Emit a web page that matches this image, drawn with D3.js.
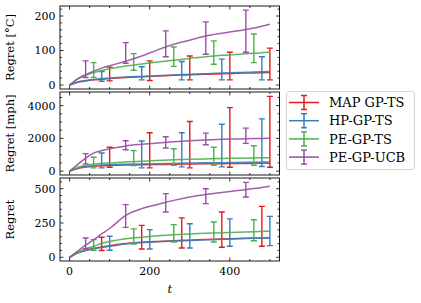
<!DOCTYPE html>
<html>
  <head>
    <meta charset="utf-8">
    <title>Regret</title>
    <script src="https://d3js.org/d3.v7.min.js"></script>
    <style>
      body { margin: 0; background: #fff; }
      text { font-family: "DejaVu Serif", serif; fill: #000; }
    </style>
  </head>
  <body>
    <svg width="421" height="303"></svg>

    <script>
      // ---- data ----
      const names = ["MAP GP-TS", "HP-GP-TS", "PE-GP-TS", "PE-GP-UCB"];
      const colors = ["#e41a1c", "#377eb8", "#4daf4a", "#984ea3"];
      const T = [0, 20, 40, 60, 80, 100, 140, 180, 220, 260, 300, 340, 380, 420, 460, 500];

      // top panel: Regret [°C]
      const tempMean = [
        [0, 8, 12, 15, 17, 19, 22, 24, 26, 28, 30, 31, 33, 34, 35, 36],
        [0, 9, 13, 16, 19, 20, 23, 25, 27, 29, 31, 33, 35, 36, 38, 39],
        [0, 18, 28, 36, 42, 47, 55, 61, 67, 72, 77, 82, 86, 89, 92, 96],
        [0, 18, 30, 40, 49, 56, 69, 84, 102, 118, 130, 142, 150, 157, 165, 176]
      ];
      const tempBarT = [[100, 200, 300, 400, 500], [80, 180, 280, 380, 480], [60, 160, 260, 360, 460], [40, 140, 240, 340, 440]];
      const tempLo = [[12, 13, 15, 15, 15], [11, 15, 15, 15, 15], [22, 43, 54, 60, 65], [22, 63, 82, 89, 95]];
      const tempHi = [[52, 70, 84, 95, 107], [39, 53, 68, 75, 82], [65, 91, 110, 128, 148], [70, 123, 157, 183, 217]];

      // middle panel: Regret [mph]
      const windMean = [
        [0, 160, 250, 300, 330, 350, 375, 390, 405, 420, 435, 445, 455, 465, 475, 480],
        [0, 180, 280, 330, 370, 400, 425, 440, 455, 470, 490, 505, 520, 535, 550, 560],
        [0, 220, 360, 430, 470, 500, 560, 610, 650, 690, 720, 745, 770, 790, 810, 820],
        [0, 400, 800, 1100, 1260, 1360, 1540, 1640, 1720, 1790, 1850, 1900, 1940, 1965, 1985, 2010]
      ];
      const windBarT = tempBarT;
      const windLo = [[240, 200, 200, 240, 240], [200, 200, 260, 260, 280], [200, 340, 363, 363, 363], [442, 1310, 1410, 1612, 1697]];
      const windHi = [[1455, 2340, 3030, 3878, 4563], [1109, 1836, 2340, 2866, 3188], [848, 1250, 1370, 1455, 1550], [1067, 1855, 2100, 2320, 2625]];

      // bottom panel: Regret
      const plainMean = [
        [0, 32, 52, 66, 75, 84, 100, 110, 116, 121, 125, 130, 134, 137, 140, 143],
        [0, 30, 50, 63, 72, 80, 97, 107, 113, 118, 122, 127, 132, 135, 138, 141],
        [0, 35, 62, 80, 100, 115, 135, 147, 157, 165, 170, 175, 179, 183, 187, 190],
        [0, 45, 88, 128, 170, 210, 305, 355, 385, 415, 440, 458, 472, 487, 501, 518]
      ];
      const plainBarT = [[80, 180, 280, 380, 480], [100, 200, 300, 400, 500], [60, 160, 260, 360, 460], [40, 140, 240, 340, 440]];
      const plainLo = [[49, 61, 68, 73, 80], [51, 61, 68, 80, 85], [51, 97, 112, 112, 121], [63, 218, 330, 391, 440]];
      const plainHi = [[146, 233, 287, 330, 371], [153, 202, 245, 280, 298], [129, 207, 238, 257, 274], [141, 384, 464, 500, 546]];

      const xTicks = [0, 200, 400];

      const panels = [
        { label: "Regret [°C]", mean: tempMean, barT: tempBarT, lo: tempLo, hi: tempHi,
          domain: [-11.5, 229], major: [0, 100, 200], minorStep: 20, top: 6, bottom: 89 },
        { label: "Regret [mph]", mean: windMean, barT: windBarT, lo: windLo, hi: windHi,
          domain: [-235, 4830], major: [0, 2000, 4000], minorStep: 500, top: 92, bottom: 175 },
        { label: "Regret", mean: plainMean, barT: plainBarT, lo: plainLo, hi: plainHi,
          domain: [-27, 578], major: [0, 250, 500], minorStep: 50, top: 178, bottom: 261 }
      ];

      // ---- drawing ----
      const svg = d3.select("svg");
      const left = 60, right = 279.5;
      const x = d3.scaleLinear().domain([-24, 524]).range([left, right]);
      const xMinor = d3.range(0, 501, 50);
      const cap = 3;

      panels.forEach((p, pi) => {
        const y = d3.scaleLinear().domain(p.domain).range([p.bottom, p.top]);
        const g = svg.append("g");
        const clipId = "clip" + pi;
        svg.append("clipPath").attr("id", clipId)
          .append("rect").attr("x", left).attr("y", p.top)
          .attr("width", right - left).attr("height", p.bottom - p.top);

        const plot = g.append("g").attr("clip-path", "url(#" + clipId + ")");
        const line = d3.line().x(d => x(d[0])).y(d => y(d[1])).curve(d3.curveMonotoneX);

        p.mean.forEach((m, si) => {
          plot.append("path")
            .datum(T.map((t, i) => [t, m[i]]))
            .attr("d", line)
            .attr("fill", "none")
            .attr("stroke", colors[si])
            .attr("stroke-width", 1.5)
            .attr("stroke-opacity", 0.9);

          const bars = plot.append("g")
            .attr("stroke", colors[si])
            .attr("stroke-width", 1.4);
          p.barT[si].forEach((t, k) => {
            const cx = x(t), y0 = y(p.lo[si][k]), y1 = y(p.hi[si][k]);
            bars.append("line").attr("x1", cx).attr("x2", cx).attr("y1", y0).attr("y2", y1);
            bars.append("line").attr("x1", cx - cap).attr("x2", cx + cap).attr("y1", y0).attr("y2", y0);
            bars.append("line").attr("x1", cx - cap).attr("x2", cx + cap).attr("y1", y1).attr("y2", y1);
          });
        });

        // ticks, inward on all four sides
        const ticks = g.append("g").attr("stroke", "#000").attr("stroke-width", 0.8);
        const yMinor = d3.range(Math.ceil(p.domain[0] / p.minorStep) * p.minorStep, p.domain[1], p.minorStep);
        yMinor.forEach(v => {
          const len = p.major.includes(v) ? 3.5 : 2;
          ticks.append("line").attr("x1", left).attr("x2", left + len).attr("y1", y(v)).attr("y2", y(v));
          ticks.append("line").attr("x1", right).attr("x2", right - len).attr("y1", y(v)).attr("y2", y(v));
        });
        xMinor.forEach(v => {
          const len = xTicks.includes(v) ? 3.5 : 2;
          ticks.append("line").attr("x1", x(v)).attr("x2", x(v)).attr("y1", p.bottom).attr("y2", p.bottom - len);
          ticks.append("line").attr("x1", x(v)).attr("x2", x(v)).attr("y1", p.top).attr("y2", p.top + len);
        });

        g.append("rect")
          .attr("x", left).attr("y", p.top)
          .attr("width", right - left).attr("height", p.bottom - p.top)
          .attr("fill", "none").attr("stroke", "#000").attr("stroke-width", 0.9);

        g.selectAll(".ytl").data(p.major).join("text")
          .attr("x", left - 4.5).attr("y", d => y(d))
          .attr("dy", "0.36em")
          .attr("text-anchor", "end")
          .attr("font-size", 11)
          .text(d => d);

        g.append("text")
          .attr("transform", "translate(13.5," + ((p.top + p.bottom) / 2) + ") rotate(-90)")
          .attr("text-anchor", "middle")
          .attr("font-size", 11.5)
          .text(p.label);

        if (pi === panels.length - 1) {
          g.selectAll(".xtl").data(xTicks).join("text")
            .attr("x", d => x(d)).attr("y", 275)
            .attr("text-anchor", "middle")
            .attr("font-size", 11)
            .text(d => d);
          g.append("text")
            .attr("x", (left + right) / 2).attr("y", 293)
            .attr("text-anchor", "middle")
            .attr("font-size", 11.5)
            .attr("font-style", "italic")
            .text("t");
        }
      });

      // ---- legend ----
      const leg = svg.append("g");
      leg.append("rect")
        .attr("x", 286.5).attr("y", 91.5).attr("width", 128).attr("height", 78)
        .attr("rx", 2.5).attr("fill", "#fff").attr("stroke", "#d0d0d0").attr("stroke-width", 0.9);
      names.forEach((n, i) => {
        const cy = 102.5 + i * 18.2;
        const e = leg.append("g").attr("stroke", colors[i]).attr("stroke-width", 1.5);
        e.append("line").attr("x1", 289).attr("x2", 319).attr("y1", cy).attr("y2", cy);
        e.append("line").attr("x1", 304).attr("x2", 304).attr("y1", cy - 7).attr("y2", cy + 7);
        e.append("line").attr("x1", 304 - cap).attr("x2", 304 + cap).attr("y1", cy - 7).attr("y2", cy - 7);
        e.append("line").attr("x1", 304 - cap).attr("x2", 304 + cap).attr("y1", cy + 7).attr("y2", cy + 7);
        leg.append("text")
          .attr("x", 329).attr("y", cy).attr("dy", "0.36em")
          .attr("font-size", 13)
          .text(n);
      });
    </script>
  </body>
</html>
